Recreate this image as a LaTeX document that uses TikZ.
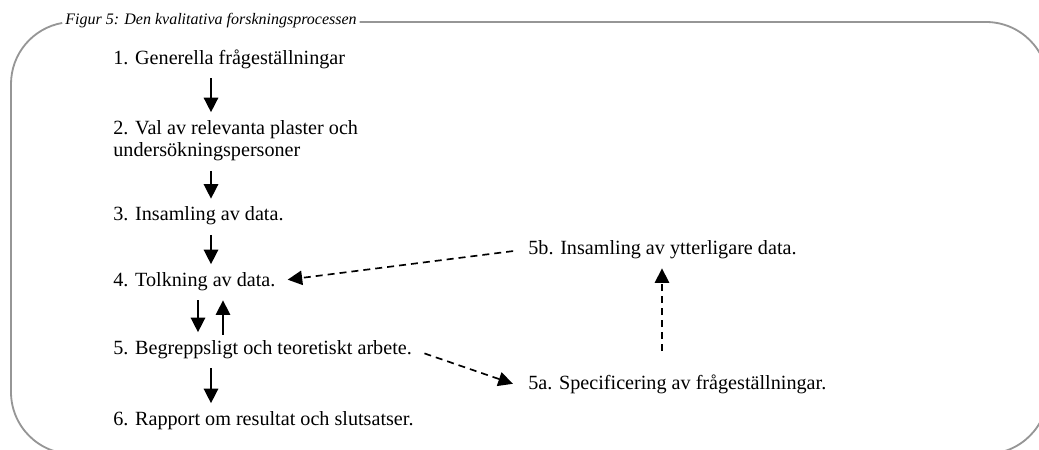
\documentclass[tikz,border=0pt]{standalone}
\usepackage{fontspec}
\setmainfont{Liberation Serif}
\usetikzlibrary{arrows.meta,calc}
\definecolor{framegray}{RGB}{150,150,150}
\begin{document}
\begin{tikzpicture}[x=0.6pt,y=-0.6pt,
  txt/.style={inner sep=0pt,anchor=base west,font=\fontsize{12.1pt}{13.5pt}\selectfont},
  ttl/.style={inner xsep=1.5pt,inner ysep=0pt,anchor=base west,font=\fontsize{9.6pt}{11pt}\selectfont\itshape},
  frameline/.style={draw=framegray,line width=1.1pt},
  tip/.style={-{Triangle[length=8.7pt,width=8.6pt]}},
  arr/.style={tip,line width=1.15pt,shorten <=5.8pt,shorten >=4.5pt},
  darr/.style={tip,line width=1pt,dash pattern=on 4.2pt off 3pt}]

\useasboundingbox (0,0) rectangle (1039,449);
\clip (0,0) rectangle (1039,449);

% caption set into the frame
\node[ttl] (title) at (62.5,24) {Figur 5: Den kvalitativa forskningsprocessen};

% rounded frame, open where the caption sits
\coordinate (topy) at (0,22);
\draw[frameline] (title.east |- topy) -- (986,22)
  arc[start angle=90,end angle=0,radius=37.2pt] -- (1048,392)
  arc[start angle=0,end angle=-90,radius=37.2pt] -- (73,454)
  arc[start angle=-90,end angle=-180,radius=37.2pt] -- (11,84)
  arc[start angle=180,end angle=100,radius=37.2pt];

% process steps
\node[txt] (n1) at (113,64) {1. Generella frågeställningar};
\node[txt,anchor=north west,align=left] (n2) at (113,119.7)
  {2. Val av relevanta plaster och\\undersökningspersoner};
\node[txt] (n3) at (113,220.5) {3. Insamling av data.};
\node[txt] (n4) at (113,286) {4. Tolkning av data.};
\node[txt] (n5) at (113,354) {5. Begreppsligt och teoretiskt arbete.};
\node[txt] (n6) at (113,425) {6. Rapport om resultat och slutsatser.};
\node[txt] (n5b) at (528,254) {5b. Insamling av ytterligare data.};
\node[txt] (n5a) at (528,389) {5a. Specificering av frågeställningar.};

% arrow columns
\coordinate (cA) at (211,0);
\coordinate (cL) at (198,0);
\coordinate (cR) at (223,0);
\coordinate (cV) at (662,0);

% main flow
\draw[arr] (n1.south -| cA) -- (n2.north -| cA);
\draw[arr] (n2.south -| cA) -- (n3.north -| cA);
\draw[arr] (n3.south -| cA) -- (n4.north -| cA);
\draw[arr] (n4.south -| cL) -- (n5.north -| cL);
\draw[arr,shorten <=3pt,shorten >=5.8pt] (n5.north -| cR) -- (n4.south -| cR);
\draw[arr] (n5.south -| cA) -- (n6.north -| cA);

% side loop
\draw[darr,shorten <=7.8pt,shorten >=9.6pt] (n5.east) -- (n5a.base west);
\draw[darr,shorten <=13.8pt,shorten >=5.8pt] (n5a.north -| cV) -- (n5b.south -| cV);
\draw[darr,shorten <=9pt,shorten >=7.2pt] (n5b.west) -- (n4.east);
\end{tikzpicture}
\end{document}
